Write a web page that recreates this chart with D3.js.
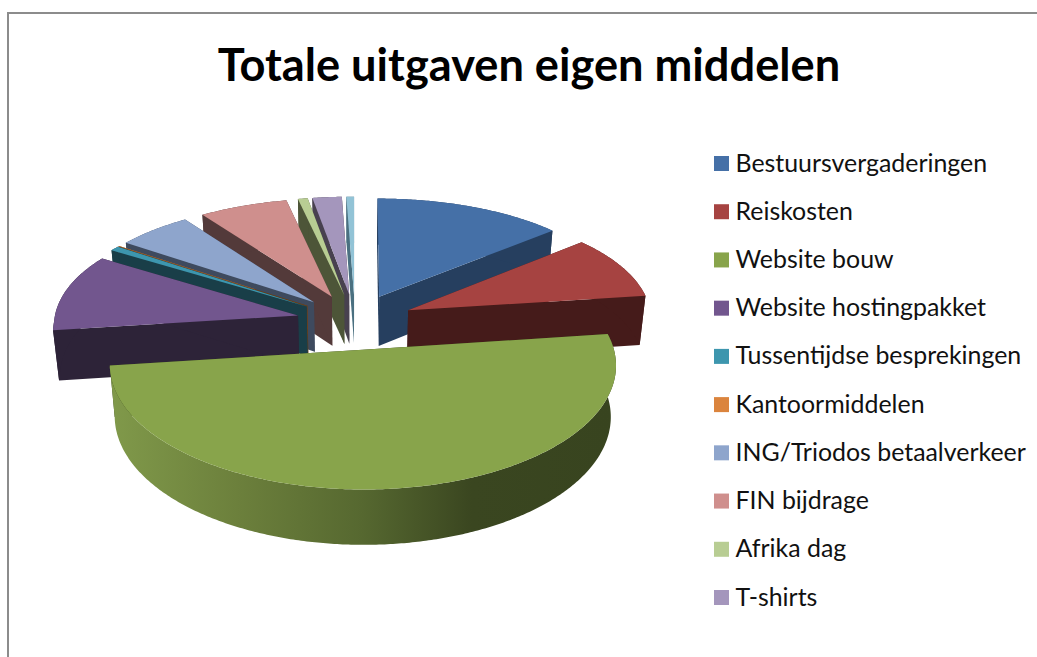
<!DOCTYPE html>
<html>
<head>
<meta charset="utf-8">
<script src="https://cdn.jsdelivr.net/npm/d3@7"></script>
<style>
  html, body { margin: 0; padding: 0; background: #fff; overflow: hidden; }
  svg { display: block; }
</style>
</head>
<body>
<svg id="chart" width="1037" height="657"></svg>
<script>
var title = "Totale uitgaven eigen middelen";

// legend only names the first ten slices, the last one has no entry in the picture
var categories = ["Bestuursvergaderingen", "Reiskosten", "Website bouw", "Website hostingpakket",
  "Tussentijdse besprekingen", "Kantoormiddelen", "ING/Triodos betaalverkeer", "FIN bijdrage",
  "Afrika dag", "T-shirts", ""];
var values = [13.7, 9.1, 49.8, 10.9, 0.7, 0.05, 5.5, 6.4, 0.7, 2.1, 0.55];

var topColors = ["#4570A7", "#A64341", "#88A44B", "#72568E", "#3D96AE", "#DB843D",
  "#8EA5CC", "#CF8F8D", "#B8CD93", "#A496BC", "#92C3D6"];
var wallColors = ["#263F5F", "#451B1A", "#37431E", "#2D2338", "#193E48", "#6B3F18",
  "#3E4A5E", "#533A3A", "#4D5538", "#48414F", "#4A7080"];

var svg = d3.select("#chart");

// chart frame, only the left and top edges fall inside the window
svg.append("rect")
  .attr("x", 8).attr("y", 13)
  .attr("width", 1200).attr("height", 900)
  .attr("fill", "#fff")
  .attr("stroke", "#8c8c8c")
  .attr("stroke-width", 2);

svg.append("text")
  .attr("x", 529).attr("y", 81)
  .attr("text-anchor", "middle")
  .attr("font-family", "Lato")
  .attr("font-weight", "bold")
  .attr("font-size", "45.2px")
  .attr("fill", "#000")
  .text(title);

// projection of the tilted pie, world units are pie radii
var centerX = 355, centerY = 321.4;
var spreadX = 244, spreadY = 115.6;
var perspectiveBack = 0.075, perspectiveFront = 0.12, perspectiveY = 0.12;
var depth = 50;
var bottomShrink = 0.98;
var explode = 0.24;

var screenX = d3.scaleLinear().domain([0, 1]).range([centerX, centerX + spreadX]);
var screenY = d3.scaleLinear().domain([0, 1]).range([centerY, centerY + spreadY]);

function project(wx, wy, bottom) {
  var sx = 1 / (1 - (wy < 0 ? perspectiveBack : perspectiveFront) * wy);
  var sy = 1 / (1 - perspectiveY * wy);
  var k = bottom ? bottomShrink : 1;
  return [
    screenX(wx * sx * k),
    screenY(wy * sy * k) + (bottom ? depth * sy : 0)
  ];
}

var pie = d3.pie().sort(null).value(function(d) { return d; });
var arcs = pie(values);

var line = d3.line().curve(d3.curveLinear);

function rim(a, bottom) {
  var mid = (a.startAngle + a.endAngle) / 2;
  var ox = explode * Math.sin(mid), oy = -explode * Math.cos(mid);
  var n = Math.max(2, Math.ceil((a.endAngle - a.startAngle) / 0.01));
  var pts = [];
  d3.range(n + 1).forEach(function(i) {
    var t = a.startAngle + (a.endAngle - a.startAngle) * i / n;
    pts.push(project(ox + Math.sin(t), oy - Math.cos(t), bottom));
  });
  return { apex: project(ox, oy, bottom), pts: pts };
}

var defs = svg.append("defs");
var sideGradient = defs.append("linearGradient")
  .attr("id", "sideGradient")
  .attr("gradientUnits", "userSpaceOnUse")
  .attr("x1", 112).attr("y1", 0).attr("x2", 612).attr("y2", 0);
[[0, "#80994A"], [0.25, "#6C803C"], [0.5, "#566830"], [0.72, "#3A4620"], [1, "#38441F"]].forEach(function(s) {
  sideGradient.append("stop").attr("offset", s[0]).attr("stop-color", s[1]);
});

// paint back to front, slices nearest the viewer last
var order = d3.range(arcs.length).sort(function(a, b) {
  var ma = (arcs[a].startAngle + arcs[a].endAngle) / 2;
  var mb = (arcs[b].startAngle + arcs[b].endAngle) / 2;
  return d3.ascending(-Math.cos(ma), -Math.cos(mb));
});

var slices = svg.append("g").attr("id", "slices");

order.forEach(function(i) {
  var a = arcs[i];
  var up = rim(a, false), down = rim(a, true);
  var g = slices.append("g");
  var last = up.pts.length - 1;

  // side wall along the start radius
  g.append("path")
    .attr("d", line([up.apex, up.pts[0], down.pts[0], down.apex]) + "Z")
    .attr("fill", wallColors[i]);
  // side wall along the end radius
  g.append("path")
    .attr("d", line([up.apex, up.pts[last], down.pts[last], down.apex]) + "Z")
    .attr("fill", wallColors[i]);
  // outer curved wall
  g.append("path")
    .attr("d", line(up.pts.concat(down.pts.slice().reverse())) + "Z")
    .attr("fill", i == 2 ? "url(#sideGradient)" : wallColors[i]);
  // top face
  g.append("path")
    .attr("d", line([up.apex].concat(up.pts)) + "Z")
    .attr("fill", topColors[i]);
});

// legend
var legendNames = categories.filter(function(c) { return c != ""; });
var legendY = d3.scalePoint()
  .domain(legendNames)
  .range([163.5, 597.5]);

var legend = svg.append("g").attr("id", "legend")
  .selectAll("g")
  .data(legendNames)
  .enter().append("g")
  .attr("transform", function(d) { return "translate(714," + legendY(d) + ")"; });

legend.append("rect")
  .attr("x", 0).attr("y", -7.5)
  .attr("width", 15).attr("height", 15)
  .attr("fill", function(d, i) { return topColors[i]; });

legend.append("text")
  .attr("x", 21.5).attr("y", 8)
  .attr("font-family", "Lato")
  .attr("font-size", "24.9px")
  .attr("fill", "#111")
  .text(function(d) { return d; });
</script>
</body>
</html>
